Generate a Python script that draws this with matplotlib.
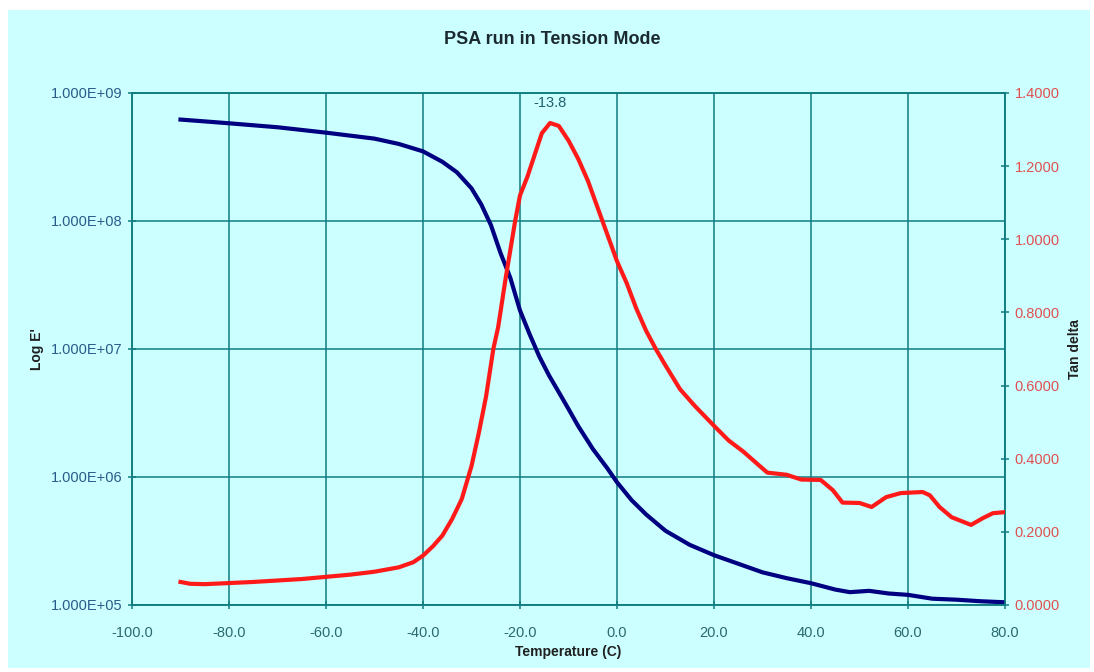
import numpy as np
import matplotlib
matplotlib.use("Agg")
import matplotlib.pyplot as plt
from matplotlib.patches import Rectangle
from matplotlib.ticker import FixedLocator, FuncFormatter

plt.rcParams['font.family'] = ['Liberation Sans', 'DejaVu Sans']

# storage modulus E' (Pa) vs temperature (C)
temp_e = [-90, -85, -80, -70, -60, -50, -45, -40, -36, -33, -30, -28, -26, -24,
          -22, -20, -18, -16, -14, -12, -10, -8, -5, -2, 0, 3, 6, 10, 15, 20,
          25, 30, 35, 40, 45, 48, 52, 56, 60, 65, 70, 75, 80]
modulus = [6.2e8, 6.0e8, 5.8e8, 5.4e8, 4.9e8, 4.4e8, 4.0e8, 3.5e8, 2.9e8, 2.4e8,
           1.8e8, 1.35e8, 9.3e7, 5.6e7, 3.6e7, 2.0e7, 1.3e7, 8.7e6, 6.2e6, 4.6e6,
           3.4e6, 2.5e6, 1.66e6, 1.17e6, 9.1e5, 6.6e5, 5.1e5, 3.8e5, 2.95e5, 2.45e5,
           2.1e5, 1.8e5, 1.62e5, 1.48e5, 1.32e5, 1.26e5, 1.29e5, 1.23e5, 1.2e5,
           1.12e5, 1.1e5, 1.07e5, 1.05e5]

# tan delta vs temperature (C)
temp_t = [-90, -88, -85, -80, -75, -70, -65, -60, -55, -50, -45, -42, -40, -38,
          -36, -34, -32, -30, -28.5, -27, -25.5, -24.5, -23, -22, -21, -20, -18.5,
          -17, -15.5, -13.8, -12, -10, -8, -6, -3, 0, 2, 4, 6, 8, 10, 13, 16, 20,
          23, 26, 29, 31, 35, 38, 42, 44.5, 46.5, 50, 52.5, 55.5, 58.5, 63, 64.5,
          66.5, 69, 73, 75.5, 77.5, 80]
tan_delta = [0.063, 0.058, 0.057, 0.060, 0.063, 0.067, 0.071, 0.077, 0.083, 0.091,
             0.103, 0.117, 0.135, 0.16, 0.19, 0.235, 0.29, 0.38, 0.47, 0.57, 0.70,
             0.76, 0.89, 0.97, 1.05, 1.12, 1.17, 1.23, 1.29, 1.318, 1.31, 1.27, 1.22,
             1.16, 1.05, 0.94, 0.88, 0.81, 0.75, 0.70, 0.655, 0.59, 0.545, 0.49,
             0.45, 0.42, 0.385, 0.362, 0.356, 0.343, 0.342, 0.314, 0.28, 0.279,
             0.268, 0.295, 0.306, 0.309, 0.30, 0.268, 0.24, 0.219, 0.238, 0.251, 0.254]

peak_temp = -13.8
peak_val = 1.318

x_ticks = np.arange(-100, 81, 20)
e_ticks = [1e5, 1e6, 1e7, 1e8, 1e9]
t_ticks = np.arange(0, 1.41, 0.2)

bg = '#CCFFFF'
grid = '#107C80'

fig = plt.figure(figsize=(10.94, 6.72), dpi=100, facecolor='white')
fig.patches.append(Rectangle((8 / 1094, 4 / 672), 1082 / 1094, 658 / 672,
                             transform=fig.transFigure, facecolor=bg,
                             edgecolor='none', zorder=-10))

ax = fig.add_axes([132 / 1094, 1 - 605 / 672, 873 / 1094, 512 / 672])
ax.set_facecolor(bg)
ax.set_yscale('log')
ax.set_xlim(-100, 80)
ax.set_ylim(1e5, 1e9)
ax.xaxis.set_major_locator(FixedLocator(x_ticks))
ax.yaxis.set_major_locator(FixedLocator(e_ticks))
ax.yaxis.set_minor_locator(FixedLocator([]))
ax.xaxis.set_major_formatter(FuncFormatter(lambda v, p: f"{v:.1f}"))
ax.yaxis.set_major_formatter(FuncFormatter(lambda v, p: f"{v:.3E}"))
ax.grid(True, color=grid, linewidth=1.1)
ax.set_axisbelow(True)
ax.plot(temp_e, modulus, color='#000080', linewidth=3, zorder=3)

ax2 = ax.twinx()
ax2.set_ylim(0, 1.4)
ax2.yaxis.set_major_locator(FixedLocator(t_ticks))
ax2.yaxis.set_major_formatter(FuncFormatter(lambda v, p: f"{v:.4f}"))
ax2.plot(temp_t, tan_delta, color='#FF1A1A', linewidth=3, zorder=3)
ax2.text(peak_temp, peak_val + 0.035, f"{peak_temp}", ha='center', va='bottom',
         fontsize=10.5, color='#1F5F6F')

for a in (ax, ax2):
    for s in a.spines.values():
        s.set_color(grid)
        s.set_linewidth(1.1)
    a.tick_params(axis='both', which='both', direction='inout', length=6,
                  color=grid, width=1.1, labelsize=10.5)

ax.tick_params(axis='y', labelcolor='#2A5C8A', pad=4)
ax.tick_params(axis='x', labelcolor='#2A6A70', pad=12)
ax2.tick_params(axis='y', labelcolor='#E05050', pad=4)

ax.set_xlabel("Temperature (C)", fontsize=10, fontweight='bold', color='#202020',
              labelpad=4)
ax.set_ylabel("Log E'", fontsize=10, fontweight='bold', color='#202020',
              labelpad=5)
ax2.set_ylabel("Tan delta", fontsize=10, fontweight='bold', color='#202020',
               labelpad=6)

fig.text(0.505, 1 - 40 / 672, "PSA run in Tension Mode", ha='center',
         va='center', fontsize=13, fontweight='bold', color='#1A2A30')

fig.savefig("out.png", dpi=100, facecolor='white')
